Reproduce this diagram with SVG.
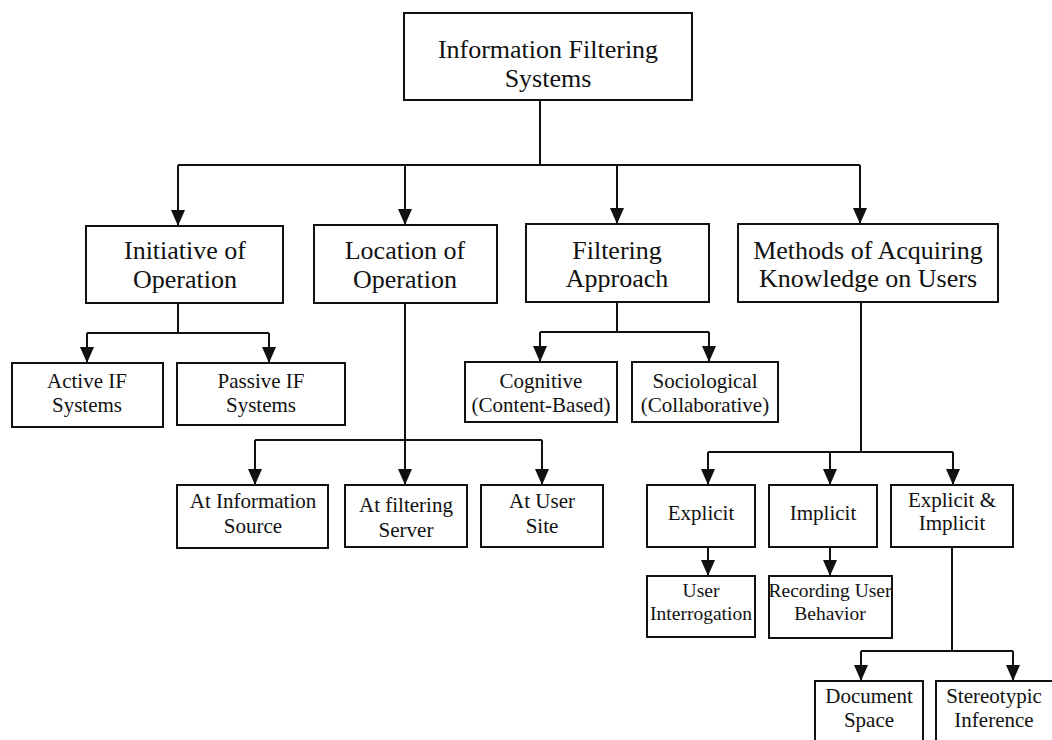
<svg xmlns="http://www.w3.org/2000/svg" width="1052" height="740" viewBox="0 0 1052 740">
<style>
.box{fill:#fff;stroke:#111;stroke-width:2}
.t1{font-family:"Liberation Serif","Times New Roman",serif;font-size:26px;fill:#111;text-anchor:middle}
.t2{font-family:"Liberation Serif","Times New Roman",serif;font-size:21px;fill:#111;text-anchor:middle}
.t3{font-family:"Liberation Serif","Times New Roman",serif;font-size:19.5px;fill:#111;text-anchor:middle}
.c{fill:none;stroke:#111;stroke-width:2}
</style>
<defs>
<marker id="ah" markerUnits="userSpaceOnUse" markerWidth="16" markerHeight="14" viewBox="0 0 16 14" refX="16" refY="7" orient="auto">
<path d="M0,0 L16,7 L0,14 z" fill="#111"/>
</marker>
</defs>
<rect width="1052" height="740" fill="#fff"/>
<g id="connectors">
<path class="c" d="M540,100 V165 M178,165 H860"/>
<path class="c" d="M178,165 V226" marker-end="url(#ah)"/>
<path class="c" d="M405,165 V225" marker-end="url(#ah)"/>
<path class="c" d="M617,165 V224" marker-end="url(#ah)"/>
<path class="c" d="M860,165 V224" marker-end="url(#ah)"/>
<path class="c" d="M178,303 V333 M87,333 H269"/>
<path class="c" d="M87,333 V363" marker-end="url(#ah)"/>
<path class="c" d="M269,333 V363" marker-end="url(#ah)"/>
<path class="c" d="M255,440 H542"/>
<path class="c" d="M405,303 V485" marker-end="url(#ah)"/>
<path class="c" d="M255,440 V485" marker-end="url(#ah)"/>
<path class="c" d="M542,440 V485" marker-end="url(#ah)"/>
<path class="c" d="M617,302 V332 M540,332 H709"/>
<path class="c" d="M540,332 V362" marker-end="url(#ah)"/>
<path class="c" d="M709,332 V362" marker-end="url(#ah)"/>
<path class="c" d="M861,302 V452 M708,452 H953"/>
<path class="c" d="M708,452 V485" marker-end="url(#ah)"/>
<path class="c" d="M830,452 V485" marker-end="url(#ah)"/>
<path class="c" d="M953,452 V485" marker-end="url(#ah)"/>
<path class="c" d="M708,547 V576" marker-end="url(#ah)"/>
<path class="c" d="M830,547 V576" marker-end="url(#ah)"/>
<path class="c" d="M952,547 V651 M861,651 H1013"/>
<path class="c" d="M861,651 V681" marker-end="url(#ah)"/>
<path class="c" d="M1013,651 V681" marker-end="url(#ah)"/>
</g>
<g id="root"><rect class="box" x="404" y="13" width="288" height="87"/><text class="t1" x="548" y="58">Information Filtering</text><text class="t1" x="548" y="87">Systems</text></g>
<g id="initiative"><rect class="box" x="86" y="226" width="197" height="77"/><text class="t1" x="185" y="259">Initiative of</text><text class="t1" x="185" y="288">Operation</text></g>
<g id="location"><rect class="box" x="314" y="225" width="183" height="78"/><text class="t1" x="405" y="259">Location of</text><text class="t1" x="405" y="288">Operation</text></g>
<g id="filtering"><rect class="box" x="526" y="224" width="183" height="78"/><text class="t1" x="617" y="259">Filtering</text><text class="t1" x="617" y="287">Approach</text></g>
<g id="methods"><rect class="box" x="738" y="224" width="260" height="78"/><text class="t1" x="868" y="259">Methods of Acquiring</text><text class="t1" x="868" y="287">Knowledge on Users</text></g>
<g id="active"><rect class="box" x="12" y="363" width="151" height="64"/><text class="t2" x="87" y="388">Active IF</text><text class="t2" x="87" y="412">Systems</text></g>
<g id="passive"><rect class="box" x="177" y="363" width="168" height="62"/><text class="t2" x="261" y="388">Passive IF</text><text class="t2" x="261" y="412">Systems</text></g>
<g id="cognitive"><rect class="box" x="465" y="362" width="152" height="60"/><text class="t2" x="541" y="388">Cognitive</text><text class="t2" x="541" y="412">(Content-Based)</text></g>
<g id="sociological"><rect class="box" x="632" y="362" width="146" height="60"/><text class="t2" x="705" y="388">Sociological</text><text class="t2" x="705" y="412">(Collaborative)</text></g>
<g id="atinfo"><rect class="box" x="177" y="485" width="151" height="63"/><text class="t2" x="253" y="508">At Information</text><text class="t2" x="253" y="533">Source</text></g>
<g id="atfilter"><rect class="box" x="345" y="485" width="122" height="62"/><text class="t2" x="406" y="512">At filtering</text><text class="t2" x="406" y="537">Server</text></g>
<g id="atuser"><rect class="box" x="481" y="485" width="122" height="62"/><text class="t2" x="542" y="508">At User</text><text class="t2" x="542" y="533">Site</text></g>
<g id="explicit"><rect class="box" x="647" y="485" width="108" height="62"/><text class="t2" x="701" y="520">Explicit</text></g>
<g id="implicit"><rect class="box" x="769" y="485" width="108" height="62"/><text class="t2" x="823" y="520">Implicit</text></g>
<g id="explicitimplicit"><rect class="box" x="891" y="485" width="122" height="62"/><text class="t2" x="952" y="507">Explicit &amp;</text><text class="t2" x="952" y="530">Implicit</text></g>
<g id="userinterrogation"><rect class="box" x="647" y="576" width="108" height="61"/><text class="t3" x="701" y="597">User</text><text class="t3" x="701" y="620">Interrogation</text></g>
<g id="recording"><rect class="box" x="769" y="576" width="123" height="62"/><text class="t3" x="830" y="597">Recording User</text><text class="t3" x="830" y="620">Behavior</text></g>
<g id="document"><rect class="box" x="815" y="681" width="108" height="70"/><text class="t2" x="869" y="703">Document</text><text class="t2" x="869" y="727">Space</text></g>
<g id="stereotypic"><rect class="box" x="936" y="681" width="130" height="70"/><text class="t2" x="994" y="703">Stereotypic</text><text class="t2" x="994" y="727">Inference</text></g>
</svg>
